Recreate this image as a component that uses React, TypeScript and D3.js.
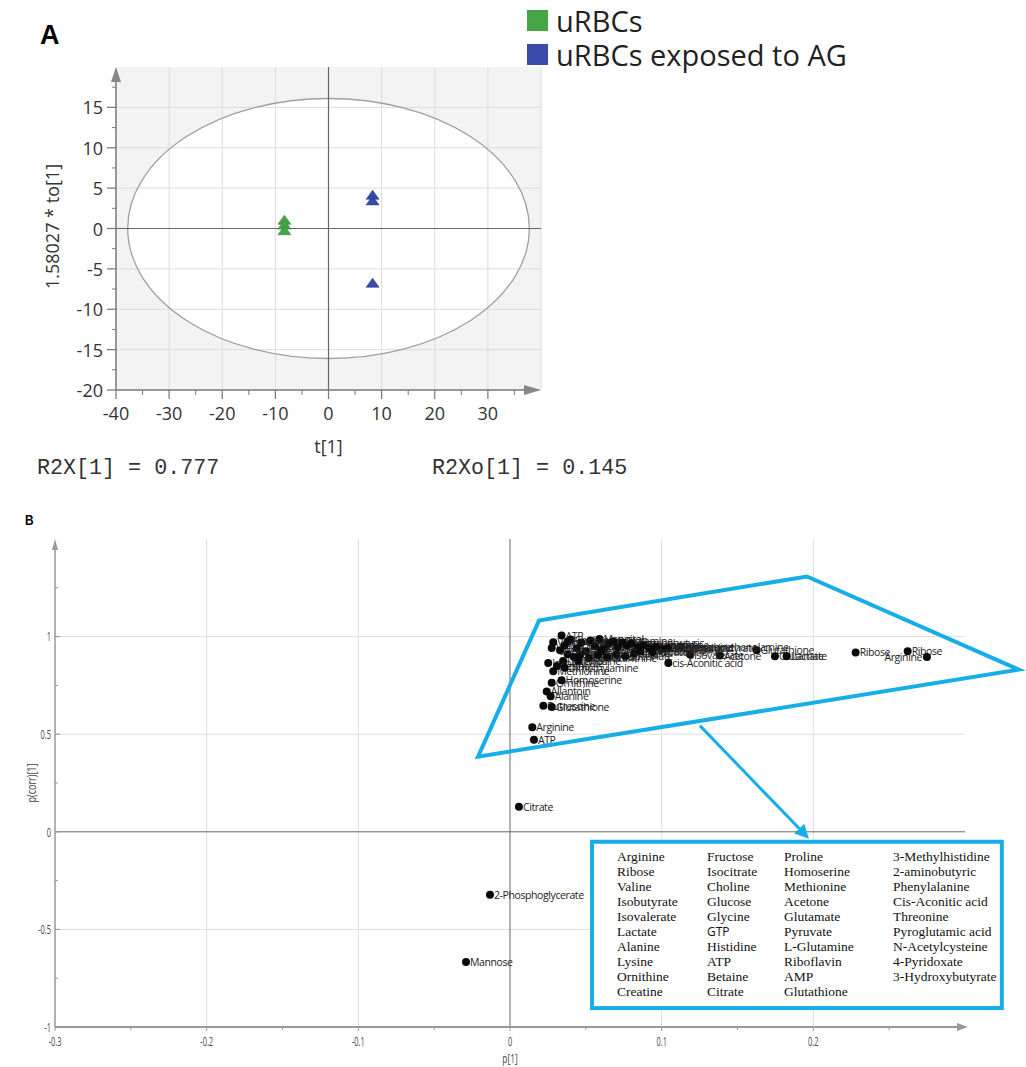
import React from "react";
import * as d3 from "d3";

// ---------- Panel A data (OPLS-DA scores) ----------
const GROUPS = ["uRBCs", "uRBCs exposed to AG"];
const GROUP_COLORS = ["#46a546", "#3a4aab"];
const GROUP_STROKES = ["#2f7d30", "#26337f"];
const SCORE_T = [-8.3, -8.3, -8.3, 8.3, 8.3, 8.3];
const SCORE_TO = [0.9, 0.3, -0.4, 4.0, 3.3, -6.9];
const SCORE_GROUP = [0, 0, 0, 1, 1, 1];
const A_X_TICKS = [-40, -30, -20, -10, 0, 10, 20, 30];
const A_Y_TICKS = [15, 10, 5, 0, -5, -10, -15, -20];
const HOTELLING_T = 37.8;
const HOTELLING_TO = 16.1;
const R2X_LABEL = "R2X[1] = 0.777";
const R2XO_LABEL = "R2Xo[1] = 0.145";
const Y_A_TITLE = "1.58027 * to[1]";
const X_A_TITLE = "t[1]";

// ---------- Panel B data (S-plot loadings) ----------
const LOAD_NAMES = [
  "Mannose", "2-Phosphoglycerate", "Citrate", "Arginine", "ATP",
  "Putrescine", "Glutathione", "Allantoin", "Alanine", "Ornithine",
  "Homoserine", "Methionine", "Isobutyrate", "Valine", "Lysine", "ATP",
  "Ribose", "Ribose", "Arginine", "Glutathione", "Glutamate", "Lactate",
  "Acetone", "Isovalerate", "cis-Aconitic acid", "Phosphoethanolamine",
  "Isocitrate", "Choline", "Glucose", "Glycine", "GTP", "Histidine",
  "Betaine", "Mannitol", "Proline", "Pyruvate", "L-Glutamine", "Riboflavin",
  "AMP", "3-Methylhistidine", "2-aminobutyric", "Phenylalanine", "Threonine",
  "Pyroglutamic acid", "N-Acetylcysteine", "4-Pyridoxate", "3-Hydroxybutyrate",
  "Creatine", "Sarcosine", "Taurine", "Hypoxanthine", "Inosine", "Uracil",
  "Formate", "Succinate", "Malate", "Leucine", "Isoleucine", "Tyrosine",
  "Glycerol", "Fumarate", "Asparagine", "Serine", "Dimethylamine", "Fructose",
];
const LOAD_P = [
  -0.029, -0.0132, 0.0059, 0.0147, 0.0158,
  0.022, 0.0275, 0.0242, 0.0268, 0.0275,
  0.034, 0.0285, 0.0252, 0.0285, 0.0275, 0.034,
  0.2279, 0.2622, 0.2749, 0.1626, 0.1747, 0.1824,
  0.1384, 0.1187, 0.1044, 0.1127,
  0.036, 0.040, 0.044, 0.047, 0.050, 0.053,
  0.056, 0.059, 0.062, 0.065, 0.068, 0.071,
  0.074, 0.077, 0.080, 0.084, 0.088,
  0.092, 0.096, 0.100, 0.104,
  0.038, 0.042, 0.046, 0.052, 0.058, 0.064,
  0.070, 0.076, 0.082, 0.035, 0.033, 0.045,
  0.060, 0.086, 0.094, 0.031, 0.036, 0.038,
];
const LOAD_PCORR = [
  -0.667, -0.323, 0.128, 0.535, 0.472,
  0.646, 0.639, 0.719, 0.694, 0.763,
  0.776, 0.822, 0.865, 0.971, 0.942, 1.005,
  0.919, 0.925, 0.896, 0.930, 0.899, 0.899,
  0.903, 0.908, 0.865, 0.949,
  0.955, 0.985, 0.94, 0.97, 0.925, 0.98,
  0.95, 0.988, 0.935, 0.965, 0.975, 0.945,
  0.97, 0.955, 0.965, 0.945, 0.955,
  0.94, 0.948, 0.935, 0.94,
  0.91, 0.895, 0.905, 0.89, 0.905, 0.895,
  0.91, 0.90, 0.915, 0.875, 0.93, 0.875,
  0.925, 0.925, 0.92, 0.85, 0.84, 0.975,
];
const LOAD_LABEL_LEFT = ["Arginine@18"];
const B_X_TICKS = [-0.3, -0.2, -0.1, 0, 0.1, 0.2];
const B_Y_TICKS = [1, 0.5, 0, -0.5, -1];
const X_B_TITLE = "p[1]";
const Y_B_TITLE = "p(corr)[1]";

// ---------- Annotation table ----------
const TABLE_COL1 = ["Arginine", "Ribose", "Valine", "Isobutyrate", "Isovalerate", "Lactate", "Alanine", "Lysine", "Ornithine", "Creatine"];
const TABLE_COL2 = ["Fructose", "Isocitrate", "Choline", "Glucose", "Glycine", "GTP", "Histidine", "ATP", "Betaine", "Citrate"];
const TABLE_COL3 = ["Proline", "Homoserine", "Methionine", "Acetone", "Glutamate", "Pyruvate", "L-Glutamine", "Riboflavin", "AMP", "Glutathione"];
const TABLE_COL4 = ["3-Methylhistidine", "2-aminobutyric", "Phenylalanine", "Cis-Aconitic acid", "Threonine", "Pyroglutamic acid", "N-Acetylcysteine", "4-Pyridoxate", "3-Hydroxybutyrate"];

// annotation geometry in loading units
const HULL = [[0.0191, 1.082], [0.1958, 1.308], [0.3355, 0.831], [-0.0211, 0.385]];
const ARROW_FROM = [0.1252, 0.544];
const ARROW_TO = [0.1971, -0.035];
const BOX = { x0: 0.0541, x1: 0.3243, y0: -0.051, y1: -0.903 };

const CYAN = "#17aee8";
const SANS = "'Open Sans', 'Noto Sans', sans-serif";
const MONO = "'Liberation Mono', 'DejaVu Sans Mono', monospace";

function PanelA() {
  const x = d3.scaleLinear().domain([-40, 40]).range([116, 541]);
  const y = d3.scaleLinear().domain([-20, 20]).range([390, 67]);
  const xMinor = d3.range(-35, 40, 5);
  const yMinor = d3.range(-17.5, 20, 2.5);
  const tri = d3.symbol(d3.symbolTriangle, 66)();
  return (
    <g>
      <text x={40} y={44} fontFamily="'Liberation Sans', Arial, sans-serif" fontWeight="bold" fontSize={27}>A</text>
      {/* legend */}
      {GROUPS.map((g, i) => (
        <g key={g}>
          <rect x={527} y={10 + i * 34} width={21} height={21} fill={GROUP_COLORS[i]} />
          <text x={556} y={20 + i * 34} dominantBaseline="central" fontFamily={SANS} fontSize={29} fill="#222">{g}</text>
        </g>
      ))}
      <rect x={x(-40)} y={y(20)} width={x(40) - x(-40)} height={y(-20) - y(20)} fill="#f3f3f3" />
      <ellipse cx={x(0)} cy={y(0)} rx={x(HOTELLING_T) - x(0)} ry={y(0) - y(HOTELLING_TO)} fill="#fff" stroke="none" />
      {A_X_TICKS.filter((t) => t !== 0 && t !== -40).concat([40]).map((t) => (
        <line key={"gx" + t} x1={x(t)} x2={x(t)} y1={y(20)} y2={y(-20)} stroke="#dcdcdc" strokeWidth={1} />
      ))}
      {A_Y_TICKS.filter((t) => t !== 0 && t !== -20).map((t) => (
        <line key={"gy" + t} x1={x(-40)} x2={x(40)} y1={y(t)} y2={y(t)} stroke="#dcdcdc" strokeWidth={1} />
      ))}
      <ellipse cx={x(0)} cy={y(0)} rx={x(HOTELLING_T) - x(0)} ry={y(0) - y(HOTELLING_TO)} fill="none" stroke="#a0a0a0" strokeWidth={1.3} />
      <line x1={x(0)} x2={x(0)} y1={y(20)} y2={y(-20)} stroke="#666" strokeWidth={1.2} />
      <line x1={x(-40)} x2={x(40)} y1={y(0)} y2={y(0)} stroke="#666" strokeWidth={1.2} />
      {/* axes */}
      <line x1={x(-40)} x2={x(-40)} y1={y(-20)} y2={y(20) + 2} stroke="#777" strokeWidth={1.5} />
      <path d={`M${x(-40)},${y(20)} l-5,15 l10,0 z`} fill="#888" />
      <line x1={x(-40)} x2={x(40) - 2} y1={y(-20)} y2={y(-20)} stroke="#777" strokeWidth={1.5} />
      <path d={`M${x(40)},${y(-20)} l-17,-5 l0,10 z`} fill="#888" />
      {A_Y_TICKS.map((t) => (
        <g key={"yt" + t}>
          <line x1={x(-40) - 9} x2={x(-40)} y1={y(t)} y2={y(t)} stroke="#777" strokeWidth={1.2} />
          <text x={x(-40) - 13} y={y(t)} textAnchor="end" dominantBaseline="central" fontFamily={SANS} fontSize={18} fill="#333">{t}</text>
        </g>
      ))}
      {yMinor.filter((t) => !A_Y_TICKS.includes(t)).map((t) => (
        <line key={"ym" + t} x1={x(-40) - 4} x2={x(-40)} y1={y(t)} y2={y(t)} stroke="#777" strokeWidth={1} />
      ))}
      {A_X_TICKS.map((t) => (
        <g key={"xt" + t}>
          <line x1={x(t)} x2={x(t)} y1={y(-20)} y2={y(-20) + 9} stroke="#777" strokeWidth={1.2} />
          <text x={x(t)} y={y(-20) + 23} textAnchor="middle" dominantBaseline="central" fontFamily={SANS} fontSize={18} fill="#333">{t}</text>
        </g>
      ))}
      {xMinor.filter((t) => !A_X_TICKS.includes(t)).map((t) => (
        <line key={"xm" + t} x1={x(t)} x2={x(t)} y1={y(-20)} y2={y(-20) + 5} stroke="#777" strokeWidth={1} />
      ))}
      <text transform={`translate(${52},${(y(20) + y(-20)) / 2 - 2}) rotate(-90)`} textAnchor="middle" dominantBaseline="central" fontFamily={SANS} fontSize={18} fill="#333">{Y_A_TITLE}</text>
      <text x={x(0)} y={446} textAnchor="middle" dominantBaseline="central" fontFamily={SANS} fontSize={18} fill="#333">{X_A_TITLE}</text>
      {SCORE_T.map((t, i) => (
        <path key={"pt" + i} d={tri} transform={`translate(${x(t)},${y(SCORE_TO[i])}) scale(1.05,0.85)`} fill={GROUP_COLORS[SCORE_GROUP[i]]} stroke={GROUP_STROKES[SCORE_GROUP[i]]} strokeWidth={0.6} />
      ))}
      <text x={37} y={468} dominantBaseline="central" fontFamily={MONO} fontSize={21.7} fill="#333">{R2X_LABEL}</text>
      <text x={432} y={468} dominantBaseline="central" fontFamily={MONO} fontSize={21.7} fill="#333">{R2XO_LABEL}</text>
    </g>
  );
}

function PanelB() {
  const x = d3.scaleLinear().domain([-0.3, 0.3]).range([55, 965]);
  const y = d3.scaleLinear().domain([-1, 1.5]).range([1027, 539]);
  const xMinor = d3.range(-0.25, 0.3, 0.1);
  const yMinor = [1.25, 0.75, 0.25, -0.25, -0.75];
  const hull = d3.line()(HULL.map(([a, b]) => [x(a), y(b)] as [number, number]));
  const ax0 = x(ARROW_FROM[0]), ay0 = y(ARROW_FROM[1]);
  const ax1 = x(ARROW_TO[0]), ay1 = y(ARROW_TO[1]);
  const ang = Math.atan2(ay1 - ay0, ax1 - ax0);
  const hl = 14, hw = 7;
  const bx = ax1 - hl * Math.cos(ang), by = ay1 - hl * Math.sin(ang);
  const head = `M${ax1},${ay1} L${bx - hw * Math.sin(ang)},${by + hw * Math.cos(ang)} L${bx + hw * Math.sin(ang)},${by - hw * Math.cos(ang)} Z`;
  const cols = [TABLE_COL1, TABLE_COL2, TABLE_COL3, TABLE_COL4];
  const colX = [0.0705, 0.1299, 0.1806, 0.2525];
  const rowY0 = -0.148;
  const rowStep = 0.0768;
  return (
    <g>
      <text transform="translate(25,525) scale(0.85,1)" fontFamily="'Liberation Sans', Arial, sans-serif" fontWeight="bold" fontSize={14}>B</text>
      {[-0.2, -0.1, 0.1, 0.2].map((t) => (
        <line key={"gx" + t} x1={x(t)} x2={x(t)} y1={y(1.5)} y2={y(-1)} stroke="#dedede" strokeWidth={1} />
      ))}
      {[1, 0.5, -0.5].map((t) => (
        <line key={"gy" + t} x1={x(-0.3)} x2={x(0.3)} y1={y(t)} y2={y(t)} stroke="#dedede" strokeWidth={1} />
      ))}
      <line x1={x(0)} x2={x(0)} y1={y(1.5)} y2={y(-1)} stroke="#666" strokeWidth={1} />
      <line x1={x(-0.3)} x2={x(0.3)} y1={y(0)} y2={y(0)} stroke="#666" strokeWidth={1} />
      {/* axes */}
      <line x1={x(-0.3)} x2={x(-0.3)} y1={y(-1)} y2={y(1.5) + 4} stroke="#999" strokeWidth={1.5} />
      <path d={`M${x(-0.3)},${y(1.5)} l-3,11 l6,0 z`} fill="#999" />
      <line x1={x(-0.3)} x2={x(0.3) - 4} y1={y(-1)} y2={y(-1)} stroke="#999" strokeWidth={2} />
      <path d={`M${x(0.3) + 3},${y(-1)} l-11,-4 l0,8 z`} fill="#999" />
      {B_Y_TICKS.map((t) => (
        <g key={"yt" + t}>
          <line x1={x(-0.3)} x2={x(-0.3) + 5} y1={y(t)} y2={y(t)} stroke="#999" strokeWidth={1} />
          <text transform={`translate(${x(-0.3) - 4},${y(t)}) scale(0.62,1)`} textAnchor="end" dominantBaseline="central" fontFamily={SANS} fontSize={12} fill="#444">{t}</text>
        </g>
      ))}
      {yMinor.map((t) => (
        <line key={"ym" + t} x1={x(-0.3)} x2={x(-0.3) + 3} y1={y(t)} y2={y(t)} stroke="#999" strokeWidth={1} />
      ))}
      {B_X_TICKS.map((t) => (
        <g key={"xt" + t}>
          <line x1={x(t)} x2={x(t)} y1={y(-1)} y2={y(-1) + 4} stroke="#999" strokeWidth={1} />
          <text transform={`translate(${x(t)},${y(-1) + 14}) scale(0.62,1)`} textAnchor="middle" dominantBaseline="central" fontFamily={SANS} fontSize={12} fill="#444">{t}</text>
        </g>
      ))}
      {xMinor.map((t) => (
        <line key={"xm" + t} x1={x(t)} x2={x(t)} y1={y(-1)} y2={y(-1) + 3} stroke="#999" strokeWidth={1} />
      ))}
      <text transform={`translate(${x(0)},${1058}) scale(0.7,1)`} textAnchor="middle" dominantBaseline="central" fontFamily={SANS} fontSize={12} fill="#444">{X_B_TITLE}</text>
      <text transform={`translate(${31},${783}) rotate(-90) scale(0.75,1)`} textAnchor="middle" dominantBaseline="central" fontFamily={SANS} fontSize={12} fill="#444">{Y_B_TITLE}</text>
      {/* points */}
      {LOAD_P.map((p, i) => {
        const left = LOAD_LABEL_LEFT.includes(LOAD_NAMES[i] + "@" + i);
        return (
          <g key={"lp" + i}>
            <circle cx={x(p)} cy={y(LOAD_PCORR[i])} r={4} fill="#0a0a0a" />
            <text x={x(p) + (left ? -5 : 4)} y={y(LOAD_PCORR[i])} textAnchor={left ? "end" : "start"} dominantBaseline="central" fontFamily={SANS} fontSize={10.5} letterSpacing={-0.4} fill="#222">{LOAD_NAMES[i]}</text>
          </g>
        );
      })}
      {/* annotations */}
      <path d={hull + "Z"} fill="none" stroke={CYAN} strokeWidth={4} strokeLinejoin="miter" />
      <line x1={ax0} y1={ay0} x2={bx} y2={by} stroke={CYAN} strokeWidth={3} />
      <path d={head} fill={CYAN} />
      <rect x={x(BOX.x0)} y={y(BOX.y0)} width={x(BOX.x1) - x(BOX.x0)} height={y(BOX.y1) - y(BOX.y0)} fill="#fff" stroke={CYAN} strokeWidth={4} />
      {cols.map((col, ci) => col.map((name, ri) => (
        <text key={"tb" + ci + ri} x={x(colX[ci])} y={y(rowY0 - ri * rowStep)} fontFamily={name === "GTP" ? SANS : "'Liberation Serif', 'Times New Roman', serif"} fontSize={name === "GTP" ? 12 : 13.5} fill="#111">{name}</text>
      )))}
    </g>
  );
}

export default function App() {
  return (
    <svg width={1026} height={1067} style={{ position: "absolute", left: 0, top: 0, background: "#fff" }}>
      <rect width={1026} height={1067} fill="#fff" />
      <PanelA />
      <PanelB />
    </svg>
  );
}
